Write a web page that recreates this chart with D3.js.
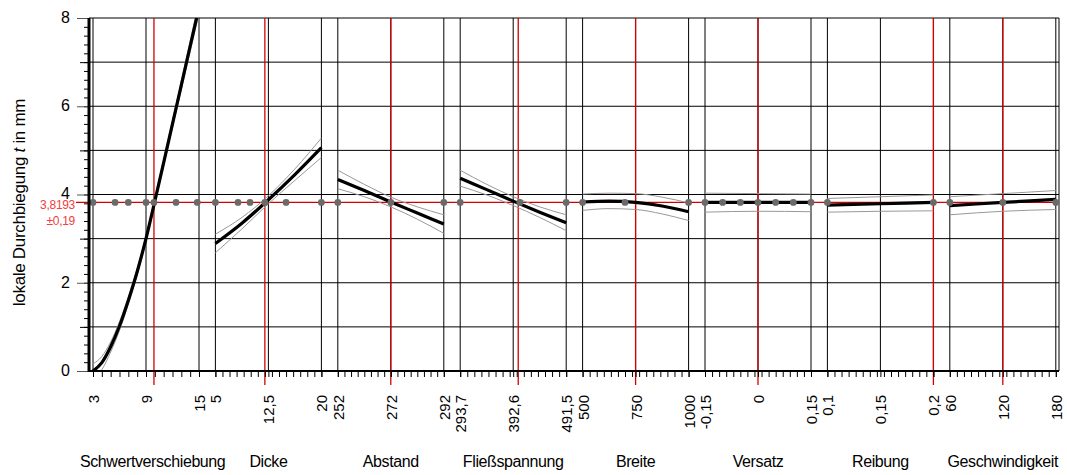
<!DOCTYPE html>
<html>
<head>
<meta charset="utf-8">
<script src="https://cdn.jsdelivr.net/npm/d3@7"></script>
<style>
  html, body { margin: 0; padding: 0; background: #fff; }
  svg { display: block; font-family: "Liberation Sans", Arial, sans-serif; }
</style>
</head>
<body>
<svg id="chart" width="1067" height="475"></svg>
<script>
// Prediction profiler: local deflection t against eight process factors
const factorNames = ["Schwertverschiebung", "Dicke", "Abstand", "Fließspannung", "Breite", "Versatz", "Reibung", "Geschwindigkeit"];
const factorMin = [3, 5, 252, 293.7, 500, -0.15, 0.1, 60];
const factorMax = [15, 20, 292, 491.5, 1000, 0.15, 0.2, 180];
const currentSetting = [9.9, 12, 272, 402, 750, 0, 0.2, 120];
const minorTickCount = [12, 15, 16, 15, 15, 15, 15, 15];
const predicted = 3.8193;
const predictedCI = 0.19;

const profileX = [
  [3, 4, 5, 6, 7, 8, 9, 10, 11, 12, 13, 14, 15],
  [5, 8.75, 12.5, 16.25, 20],
  [252, 262, 272, 282, 292],
  [293.7, 343.15, 392.6, 442.05, 491.5],
  [500, 625, 750, 875, 1000],
  [-0.15, 0, 0.15],
  [0.1, 0.15, 0.2],
  [60, 120, 180]
];
const profileMean = [
  [0, 0.19, 0.55, 1.02, 1.6, 2.25, 3.0, 3.85, 4.72, 5.6, 6.48, 7.36, 8.24],
  [2.89, 3.35, 3.88, 4.45, 5.06],
  [4.34, 4.09, 3.83, 3.58, 3.33],
  [4.37, 4.11, 3.85, 3.60, 3.36],
  [3.83, 3.85, 3.82, 3.74, 3.61],
  [3.82, 3.82, 3.82],
  [3.76, 3.79, 3.82],
  [3.75, 3.82, 3.89]
];
const profileLower = [
  [-0.17, 0.03, 0.43, 0.92, 1.52, 2.18, 2.94, 3.79, 4.65, 5.52, 6.38, 7.24, 8.1],
  [2.68, 3.22, 3.79, 4.32, 4.84],
  [4.13, 3.95, 3.72, 3.44, 3.12],
  [4.19, 3.99, 3.75, 3.48, 3.18],
  [3.64, 3.68, 3.66, 3.56, 3.41],
  [3.60, 3.62, 3.61],
  [3.60, 3.62, 3.63],
  [3.54, 3.62, 3.66]
];
const profileUpper = [
  [0.16, 0.33, 0.66, 1.12, 1.68, 2.32, 3.06, 3.91, 4.79, 5.68, 6.58, 7.48, 8.38],
  [3.10, 3.48, 3.97, 4.58, 5.28],
  [4.55, 4.23, 3.94, 3.72, 3.54],
  [4.55, 4.23, 3.95, 3.72, 3.54],
  [4.01, 4.03, 4.02, 3.94, 3.81],
  [4.03, 4.02, 4.01],
  [3.91, 3.95, 3.99],
  [3.95, 4.02, 4.09]
];
const designPoints = [
  [3, 5.5, 7, 9, 9.9, 12.4, 14.8],
  [5, 8.2, 9.9, 12, 15, 20],
  [252, 272, 292],
  [293.7, 405, 491.5],
  [500, 700, 1000],
  [-0.15, -0.1, -0.05, 0, 0.05, 0.1, 0.15],
  [0.1, 0.2],
  [60, 120, 180]
];
const yTicksMajor = [0, 2, 4, 6, 8];

// Layout
const plotLeft = 89, plotRight = 1059, plotTop = 18, plotBottom = 371;
const panelStart = 93, panelPitch = 122.4, panelWidth = 106;
const RED = "#d40000";

const de = d3.formatLocale({ decimal: ",", thousands: ".", grouping: [3], currency: ["", " €"], minus: "-" });
const fmt = de.format("~g");

const svg = d3.select("#chart");
const y = d3.scaleLinear().domain([0, 8]).range([plotBottom, plotTop]);

const xScales = factorNames.map((_, i) => {
  const left = panelStart + i * panelPitch;
  return d3.scaleLinear().domain([factorMin[i], factorMax[i]]).range([left, left + panelWidth]);
});

svg.append("clipPath").attr("id", "plotClip")
  .append("rect").attr("x", plotLeft).attr("y", plotTop)
  .attr("width", plotRight - plotLeft).attr("height", plotBottom - plotTop);

// Horizontal grid
const grid = svg.append("g").attr("stroke", "#000").attr("stroke-width", 1);
grid.selectAll("line.h").data(d3.range(1, 9)).join("line")
  .attr("x1", plotLeft).attr("x2", plotRight)
  .attr("y1", d => y(d)).attr("y2", d => y(d));

// Vertical grid at min / mid / max of each factor
factorNames.forEach((_, i) => {
  const xs = xScales[i];
  const vals = [factorMin[i], (factorMin[i] + factorMax[i]) / 2, factorMax[i]];
  grid.selectAll(null).data(vals).join("line")
    .attr("x1", d => xs(d)).attr("x2", d => xs(d))
    .attr("y1", plotTop).attr("y2", plotBottom);
});
// right frame
grid.append("line").attr("x1", plotRight).attr("x2", plotRight)
  .attr("y1", plotTop).attr("y2", plotBottom);

// Red current-setting lines
const red = svg.append("g").attr("stroke", RED).attr("stroke-width", 1.3);
currentSetting.forEach((v, i) => {
  red.append("line").attr("x1", xScales[i](v)).attr("x2", xScales[i](v))
    .attr("y1", plotTop).attr("y2", plotBottom + 14);
});
red.append("line").attr("x1", 76).attr("x2", plotRight)
  .attr("y1", y(predicted)).attr("y2", y(predicted));

// Profile traces with confidence bands
const curves = svg.append("g").attr("clip-path", "url(#plotClip)").attr("fill", "none");
factorNames.forEach((_, i) => {
  const xs = xScales[i];
  const pts = arr => profileX[i].map((xv, k) => [xs(xv), y(arr[k])]);
  const line = d3.line().curve(d3.curveMonotoneX);
  curves.append("path").attr("d", line(pts(profileUpper[i])))
    .attr("stroke", "#999").attr("stroke-width", 1);
  curves.append("path").attr("d", line(pts(profileLower[i])))
    .attr("stroke", "#999").attr("stroke-width", 1);
  curves.append("path").attr("d", line(pts(profileMean[i])))
    .attr("stroke", "#000").attr("stroke-width", 3.2);
});

// Design points on the prediction line
const dots = svg.append("g").attr("fill", "#6a6a6a");
designPoints.forEach((vals, i) => {
  dots.selectAll(null).data(vals).join("circle")
    .attr("cx", d => xScales[i](d)).attr("cy", y(predicted)).attr("r", 3.4);
});

// Bottom axes and factor names
factorNames.forEach((_, i) => {
  const xs = xScales[i];
  const step = (factorMax[i] - factorMin[i]) / minorTickCount[i];
  const minor = d3.range(minorTickCount[i] + 1).map(k => factorMin[i] + k * step);
  const gMinor = svg.append("g").attr("transform", `translate(0,${plotBottom})`)
    .call(d3.axisBottom(xs).tickValues(minor).tickSize(6).tickFormat(""));
  gMinor.select(".domain").remove();
  gMinor.selectAll(".tick line").attr("stroke", "#000");

  const major = [factorMin[i], (factorMin[i] + factorMax[i]) / 2, factorMax[i]];
  const gMajor = svg.append("g").attr("transform", `translate(0,${plotBottom})`)
    .call(d3.axisBottom(xs).tickValues(major).tickSize(6).tickFormat(fmt));
  gMajor.select(".domain").remove();
  gMajor.selectAll(".tick line").attr("stroke", "#000");
  gMajor.selectAll(".tick text")
    .attr("transform", "rotate(-90)")
    .attr("text-anchor", "end")
    .attr("x", -24).attr("y", 0).attr("dy", "0.36em")
    .attr("fill", "#000")
    .style("font-size", "15px")
    .style("font-family", "'Liberation Sans', Arial, sans-serif");

  const label = svg.append("text")
    .attr("x", xs(factorMin[i]) + panelWidth / 2).attr("y", 467)
    .attr("text-anchor", "middle")
    .style("font-size", "16px").style("letter-spacing", "-0.4px")
    .text(factorNames[i]);
  // keep names inside the plot's horizontal extent
  const w = label.node().getComputedTextLength();
  const cx = xs(factorMin[i]) + panelWidth / 2;
  const clamped = Math.min(Math.max(cx, 80 + w / 2), plotRight - w / 2);
  label.attr("x", clamped);
});

// x axis base line
svg.append("line").attr("x1", plotLeft).attr("x2", plotRight)
  .attr("y1", plotBottom).attr("y2", plotBottom)
  .attr("stroke", "#000").attr("stroke-width", 2.2);

// Left axis
const yMinor = d3.range(0, 8.001, 0.2).map(v => +v.toFixed(1));
const gyMinor = svg.append("g").attr("transform", `translate(${plotLeft},0)`)
  .call(d3.axisLeft(y).tickValues(yMinor).tickSize(5).tickFormat(""));
gyMinor.select(".domain").remove();
gyMinor.selectAll(".tick line").attr("stroke", "#000");
const gyMid = svg.append("g").attr("transform", `translate(${plotLeft},0)`)
  .call(d3.axisLeft(y).tickValues([1, 3, 5, 7]).tickSize(9).tickFormat(""));
gyMid.select(".domain").remove();
gyMid.selectAll(".tick line").attr("stroke", "#000");
const gyMajor = svg.append("g").attr("transform", `translate(${plotLeft},0)`)
  .call(d3.axisLeft(y).tickValues(yTicksMajor).tickSize(12).tickFormat(fmt));
gyMajor.select(".domain").remove();
gyMajor.selectAll(".tick line").attr("stroke", "#555");
gyMajor.selectAll(".tick text")
  .attr("x", -19).attr("dy", "0.28em").attr("fill", "#000")
  .style("font-size", "16px")
  .style("font-family", "'Liberation Sans', Arial, sans-serif");

svg.append("line").attr("x1", plotLeft).attr("x2", plotLeft)
  .attr("y1", plotTop).attr("y2", plotBottom + 1)
  .attr("stroke", "#000").attr("stroke-width", 3);

// Y title
const yTitle = svg.append("text")
  .attr("transform", `translate(25,${(plotTop + plotBottom) / 2 + 8}) rotate(-90)`)
  .attr("text-anchor", "middle")
  .style("font-size", "17px").style("letter-spacing", "-0.3px");
yTitle.append("tspan").text("lokale Durchbiegung ");
yTitle.append("tspan").style("font-style", "italic").text("t");
yTitle.append("tspan").text(" in mm");

// Predicted value and interval
svg.append("text").attr("x", 75).attr("y", y(predicted) + 6.5)
  .attr("text-anchor", "end").attr("fill", "#f04040")
  .style("font-size", "12px").style("letter-spacing", "-0.3px")
  .text(fmt(predicted));
svg.append("text").attr("x", 75).attr("y", y(predicted) + 22.5)
  .attr("text-anchor", "end").attr("fill", "#f04040")
  .style("font-size", "12px").style("letter-spacing", "-0.3px")
  .text("±" + fmt(predictedCI));
</script>
</body>
</html>
